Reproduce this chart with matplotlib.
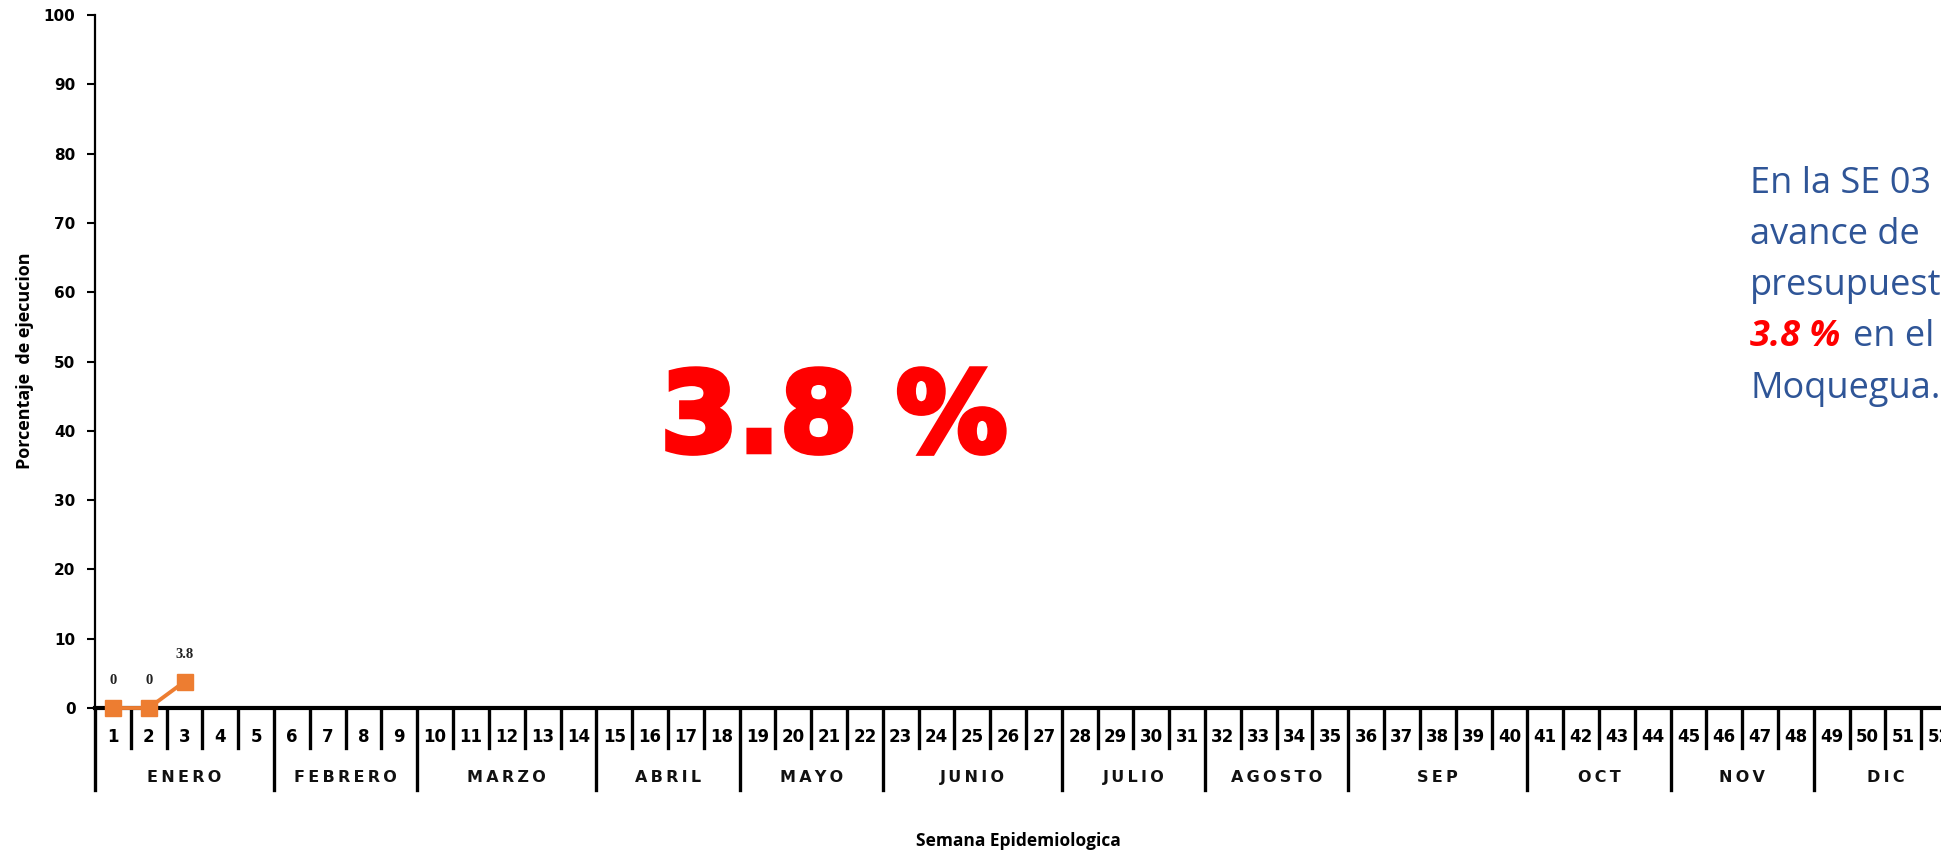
import numpy as np
from matplotlib import pyplot as plt
from matplotlib import patheffects as pe

# data
weeks = [1, 2, 3]
values = [0, 0, 3.8]
value_labels = ['0', '0', '3.8']
all_weeks = list(range(1, 53))
months = ['ENERO', 'FEBRERO', 'MARZO', 'ABRIL', 'MAYO', 'JUNIO',
          'JULIO', 'AGOSTO', 'SEP', 'OCT', 'NOV', 'DIC']
month_first_week = [1, 6, 10, 15, 19, 23, 28, 32, 36, 41, 45, 49]
month_last_week = [5, 9, 14, 18, 22, 27, 31, 35, 40, 44, 48, 52]
y_ticks = list(range(0, 101, 10))

W, H = 1941, 852
fig = plt.figure(figsize=(W / 100, H / 100), dpi=100)
# the axis runs a little past the right edge of the picture, as in the original
ax = fig.add_axes([95 / W, (H - 708) / H, (1957 - 95) / W, (708 - 15) / H])

ax.set_xlim(0.5, 52.5)
ax.set_ylim(0, 100)
for s in ['top', 'right']:
    ax.spines[s].set_visible(False)
ax.spines['left'].set_linewidth(1.6)
ax.spines['bottom'].set_linewidth(3)

ax.set_xticks([])
ax.set_yticks(y_ticks)
ax.tick_params(axis='y', length=6, width=1.5, pad=8)
for lab in ax.get_yticklabels():
    lab.set_fontweight('bold')
    lab.set_fontsize(11)
    lab.set_family('DejaVu Sans')

# series
ax.plot(weeks, values, color='#ED7D31', linewidth=2.8, marker='s',
        markersize=11.5, markeredgecolor='#ED7D31', clip_on=False, zorder=5)
for w, v, t in zip(weeks, values, value_labels):
    ax.annotate(t, (w, v), xytext=(0, 15), textcoords='offset points',
                ha='center', va='bottom', fontsize=10.5, fontweight='bold',
                family='Liberation Serif', color='#222222')

# week separators and labels
short_bottom = -5.8
long_bottom = -11.8
month_edges = [m - 0.5 for m in month_first_week]
for w in all_weeks:
    edge = w - 0.5
    if edge in month_edges:
        ax.plot([edge, edge], [0, long_bottom], color='black', lw=2.4, clip_on=False)
    else:
        ax.plot([edge, edge], [0, short_bottom], color='black', lw=2.4, clip_on=False)
    ax.text(w, -4.2, str(w), ha='center', va='center', fontsize=12,
            fontweight='bold', family='DejaVu Sans', clip_on=False)

for name, a, b in zip(months, month_first_week, month_last_week):
    ax.text((a + b) / 2, -10.0, '\u2009'.join(name), ha='center', va='center',
            fontsize=11.5, fontweight='bold', family='DejaVu Sans', color='#111111')

fig.text(25 / W, 1 - 361 / H, 'Porcentaje  de ejecucion', rotation=90,
         ha='center', va='center', fontsize=13, fontweight='bold', family='Open Sans')
fig.text(1018 / W, 1 - 841 / H, 'Semana Epidemiologica', ha='center', va='center',
         fontsize=12.5, fontweight='bold', family='Open Sans')

# big value in the middle
fig.text(834 / W, 1 - 421 / H, '3.8 %', ha='center', va='center', fontsize=80,
         fontweight='bold', family='DejaVu Sans', color='#FF0000',
         path_effects=[pe.withStroke(linewidth=4, foreground='#FF0000',
                                     joinstyle='miter')])

# note on the right
blue = '#2F5597'
x0 = 1750 / W
lines = ['En la SE 03', 'avance de', 'presupuesto', None, 'Moquegua.']
baselines = [193, 244, 295, 346, 398]
for t, yb in zip(lines, baselines):
    if t is not None:
        fig.text(x0, 1 - yb / H, t, ha='left', va='baseline', fontsize=26,
                 family='Open Sans', color=blue)
fig.text(x0, 1 - baselines[3] / H, '3.8 %', ha='left', va='baseline', fontsize=26,
         family='Open Sans', fontweight='bold', style='italic', color='#FF0000')
fig.text(1853 / W, 1 - baselines[3] / H, 'en el', ha='left', va='baseline', fontsize=26,
         family='Open Sans', color=blue)

fig.savefig('out.png', dpi=100)
